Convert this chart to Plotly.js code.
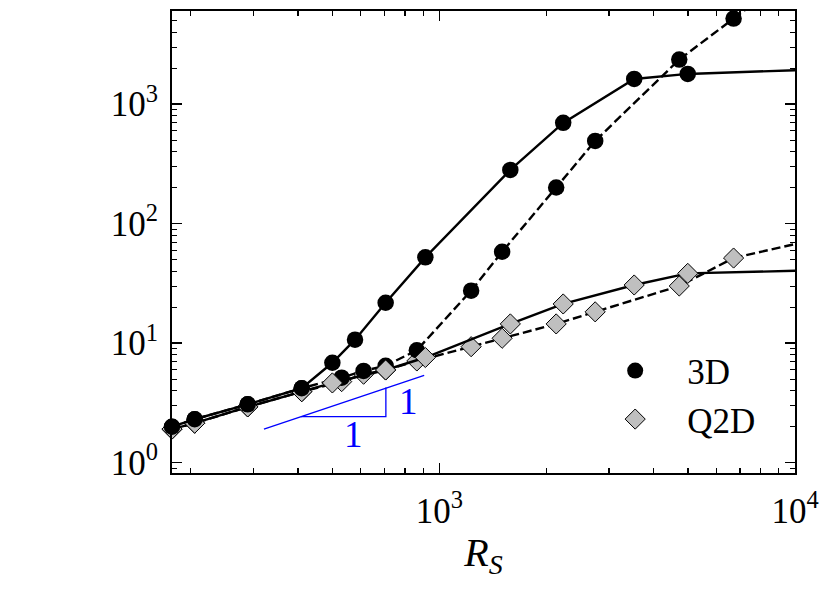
<!DOCTYPE html>
<html>
<head>
<meta charset="utf-8">
<script src="https://cdn.plot.ly/plotly-3.0.1.min.js"></script>
<style>
  html, body { margin: 0; padding: 0; background: #fff; }
  #chart { width: 830px; height: 589px; }
</style>
</head>
<body>
<div id="chart"></div>
<script>
/* R_S sweep, 3D vs Q2D */

// 3D, solid branch
const rs3dSolid  = [177, 205, 289, 410, 500, 579, 706, 913, 1583, 2229, 3530, 4994];
const val3dSolid = [2.00, 2.31, 3.08, 4.20, 6.86, 10.7, 21.8, 52.3, 282, 698, 1627, 1792];
// 3D, dashed branch
const rs3dDash   = [177, 205, 289, 410, 531, 612, 706, 864, 1228, 1501, 2130, 2742, 4726, 6719];
const val3dDash  = [2.00, 2.31, 3.08, 4.20, 5.15, 5.86, 6.48, 8.73, 27.5, 58.2, 201, 493, 2364, 5206];
// Q2D, solid branch
const rsQ2dSolid  = [177, 205, 289, 410, 500, 706, 913, 1583, 2229, 3530, 4994];
const valQ2dSolid = [1.91, 2.14, 2.93, 3.93, 4.65, 5.97, 7.59, 14.5, 21.3, 30.7, 38.4];
// Q2D, dashed branch
const rsQ2dDash   = [177, 205, 289, 410, 531, 612, 706, 864, 1228, 1501, 2130, 2742, 4726, 6719];
const valQ2dDash  = [1.91, 2.14, 2.93, 3.93, 4.77, 5.50, 5.97, 7.10, 9.35, 11.0, 14.5, 18.3, 30.1, 51.6];

// continuation of each curve past the plotted window (no markers drawn)
const tail3dSolidX  = [4994, 20000], tail3dSolidY  = [1792, 2066];
const tail3dDashX   = [6719, 12000], tail3dDashY   = [5206, 19100];
const tailQ2dSolidX = [4994, 20000], tailQ2dSolidY = [38.4, 42.4];
const tailQ2dDashX  = [6719, 20000], tailQ2dDashY  = [51.6, 108];

// slope-1 guide triangle
const guideX = [321, 906], guideY = [1.91, 5.39];
const legX   = [408, 707, 707], legY = [2.43, 2.43, 4.25];
const labelRun  = [575, 1.71];   // "1" under the horizontal leg
const labelRise = [820, 3.24];   // "1" beside the vertical leg

const xTicks = [1e3, 1e4];
const xTickText = ["10<sup>3</sup>", "10<sup>4</sup>"];
const yTicks = [1, 10, 100, 1000];
const yTickText = ["10<sup>0</sup>", "10<sup>1</sup>", "10<sup>2</sup>", "10<sup>3</sup>"];

const FONT = "Liberation Serif, DejaVu Serif, serif";
const GREY = "#bfbfbf";
const DASH = "9px,4px";

function minorTicks(lo, hi) {
  const out = [];
  for (let e = lo; e <= hi; e++)
    for (let d = 2; d <= 9; d++) out.push(d * Math.pow(10, e));
  return out;
}

function curve(x, y, sym, dash) {
  const isCircle = sym === "circle";
  return {
    type: "scatter", mode: "lines+markers", x, y,
    showlegend: false, cliponaxis: false,
    line: { color: "#000", width: 2.4, dash: dash ? DASH : "solid" },
    marker: isCircle
      ? { symbol: "circle", size: 16.5, color: "#000", line: { width: 0 } }
      : { symbol: "diamond", size: 15.5, color: GREY, line: { color: "#000", width: 1 } },
    hoverinfo: "x+y",
  };
}

function tail(x, y, dash) {
  return {
    type: "scatter", mode: "lines", x, y, showlegend: false, hoverinfo: "skip",
    line: { color: "#000", width: 2.4, dash: dash ? DASH : "solid" },
  };
}

const traces = [
  tail(tailQ2dDashX, tailQ2dDashY, true),
  curve(rsQ2dDash, valQ2dDash, "diamond", true),
  tail(tail3dDashX, tail3dDashY, true),
  curve(rs3dDash, val3dDash, "circle", true),
  tail(tailQ2dSolidX, tailQ2dSolidY, false),
  curve(rsQ2dSolid, valQ2dSolid, "diamond", false),
  tail(tail3dSolidX, tail3dSolidY, false),
  curve(rs3dSolid, val3dSolid, "circle", false),
  { type: "scatter", mode: "lines", x: guideX, y: guideY, showlegend: false, hoverinfo: "skip",
    line: { color: "#0000ff", width: 1.3 } },
  { type: "scatter", mode: "lines", x: legX, y: legY, showlegend: false, hoverinfo: "skip",
    line: { color: "#0000ff", width: 1.3 } },
  // legend-only entries (markers, no lines)
  { type: "scatter", mode: "markers", x: [null], y: [null], name: "3D",
    marker: { symbol: "circle", size: 16, color: "#000" } },
  { type: "scatter", mode: "markers", x: [null], y: [null], name: "Q2D",
    marker: { symbol: "diamond", size: 15.5, color: GREY, line: { color: "#000", width: 1 } } },
];

const axisBase = {
  type: "log",
  showline: true, linecolor: "#000", linewidth: 2, mirror: "allticks",
  ticks: "inside", ticklen: 10, tickwidth: 1.5, tickcolor: "#000",
  showgrid: false, zeroline: false,
  tickmode: "array",
  tickfont: { family: FONT, size: 35, color: "#000" },
};

const layout = {
  width: 830, height: 589,
  margin: { l: 172, r: 35, t: 11, b: 116 },
  paper_bgcolor: "#fff", plot_bgcolor: "#fff",
  font: { family: FONT, color: "#000" },
  xaxis: {
    ...axisBase,
    range: [Math.log10(177), 4],
    tickvals: xTicks, ticktext: xTickText,
    ticklabelstandoff: 6,
    minor: { ticks: "inside", ticklen: 5, tickwidth: 1.2, tickcolor: "#000",
             tickmode: "array", tickvals: minorTicks(2, 3), showgrid: false },
    title: { text: "<i>R</i><sub><i>S</i></sub>", font: { family: FONT, size: 40 }, standoff: 8 },
  },
  yaxis: {
    ...axisBase,
    range: [Math.log10(0.82), Math.log10(6025)],
    tickvals: yTicks, ticktext: yTickText,
    ticklabelstandoff: 5,
    minor: { ticks: "inside", ticklen: 5, tickwidth: 1.2, tickcolor: "#000",
             tickmode: "array", tickvals: minorTicks(-1, 3), showgrid: false },
  },
  legend: {
    x: 0.66, y: 0.285, xanchor: "left", yanchor: "top",
    bgcolor: "rgba(0,0,0,0)", borderwidth: 0,
    itemwidth: 94, tracegroupgap: 0,
    font: { family: FONT, size: 35, color: "#000" },
  },
  annotations: [
    { x: Math.log10(labelRun[0]), y: Math.log10(labelRun[1]), xref: "x", yref: "y",
      text: "1", showarrow: false, font: { family: FONT, size: 37, color: "#0000ff" } },
    { x: Math.log10(labelRise[0]), y: Math.log10(labelRise[1]), xref: "x", yref: "y",
      text: "1", showarrow: false, font: { family: FONT, size: 37, color: "#0000ff" } },
  ],
  showlegend: true,
};

Plotly.newPlot("chart", traces, layout, { staticPlot: true, displayModeBar: false });
</script>
</body>
</html>
